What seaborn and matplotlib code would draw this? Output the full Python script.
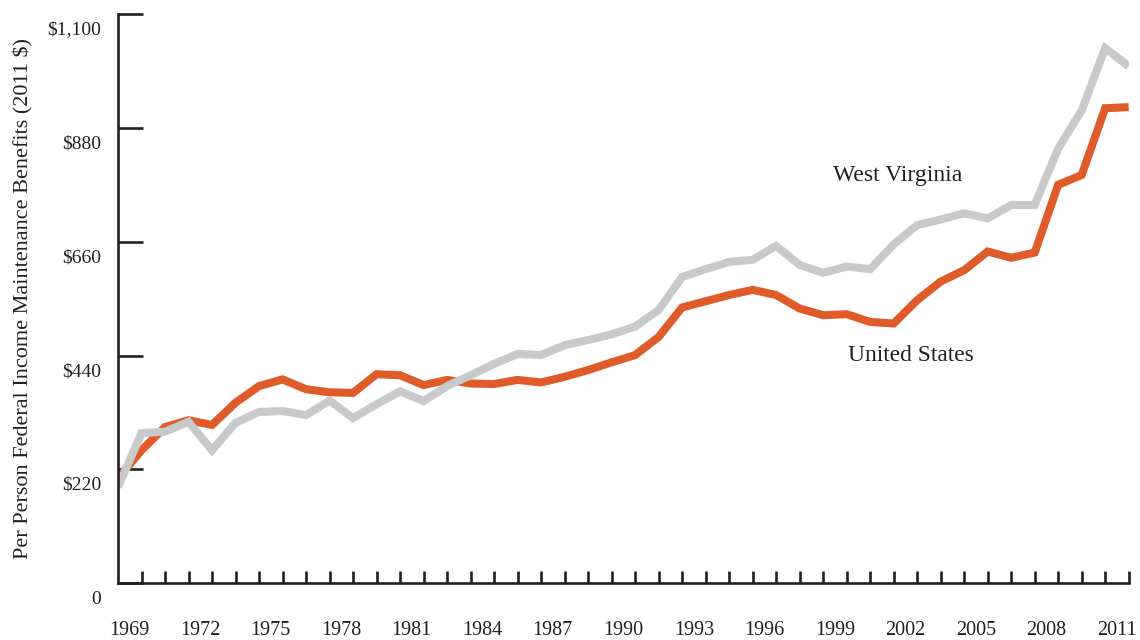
import matplotlib
matplotlib.use("Agg")
import matplotlib.pyplot as plt
from matplotlib.transforms import ScaledTranslation
import seaborn as sns
import pandas as pd

years = list(range(1969, 2013))
west_virginia = [186, 290, 293, 312, 257, 310, 331, 333, 325, 353, 319, 346, 371, 352,
                 381, 402, 424, 443, 441, 460, 470, 481, 496, 528, 592, 607, 621, 625,
                 652, 615, 600, 612, 607, 655, 692, 703, 715, 705, 731, 731, 840, 914,
                 1034, 999]
united_states = [203, 257, 302, 315, 306, 349, 381, 394, 375, 369, 368, 404, 402, 383,
                 393, 386, 385, 393, 388, 399, 412, 427, 441, 476, 533, 545, 557, 567,
                 557, 531, 518, 520, 505, 502, 547, 583, 605, 641, 629, 639, 770, 789,
                 918, 920]
series_names = ["United States", "West Virginia"]
colors = ["#DF5B2A", "#C8C9CA"]
label_years = list(range(1969, 2012, 3))
y_ticks = [0, 220, 440, 660, 880, 1100]
y_tick_labels = ["0", "$220", "$440", "$660", "$880", "$1,100"]
y_title = "Per Person Federal Income Maintenance Benefits (2011 $)"

df = pd.DataFrame({
    "year": years * 2,
    "value": united_states + west_virginia,
    "series": [series_names[0]] * len(years) + [series_names[1]] * len(years),
})

sns.set_style("white")
plt.rcParams["font.family"] = ["Liberation Serif", "DejaVu Serif"]
ink = "#231F20"

fig = plt.figure(figsize=(11.4, 6.4), dpi=100)
ax = fig.add_axes([118 / 1140, 1 - 583.3 / 640, (1128.7 - 118) / 1140, (583.3 - 14) / 640])

sns.lineplot(data=df, x="year", y="value", hue="series", hue_order=series_names,
             palette=colors, linewidth=5.8, legend=False, ax=ax,
             solid_capstyle="butt", solid_joinstyle="miter")

ax.set_xlim(years[0], years[-1])
ax.set_ylim(0, 1100)

for s in ["top", "right"]:
    ax.spines[s].set_visible(False)
for s in ["left", "bottom"]:
    ax.spines[s].set_linewidth(1.9)
    ax.spines[s].set_color(ink)

# x axis: tick marks at each year, labels between ticks
ax.set_xticks([y + 0.5 for y in label_years])
ax.set_xticklabels([str(y) for y in label_years])
ax.set_xticks(years[1:], minor=True)
ax.tick_params(axis="x", which="both", bottom=True, top=False)
ax.tick_params(axis="x", which="major", length=0, pad=27, labelsize=14.5, labelcolor=ink)
ax.tick_params(axis="x", which="minor", direction="in", length=9, width=1.9, color=ink)

ax.set_yticks(y_ticks)
ax.set_yticklabels(y_tick_labels)
ax.tick_params(axis="y", which="major", left=True, right=False, direction="in",
               length=18, width=1.9, color=ink, pad=12, labelsize=14, labelcolor=ink)
off = ScaledTranslation(0, -14 / 100, fig.dpi_scale_trans)
for lab in ax.get_yticklabels():
    lab.set_transform(lab.get_transform() + off)

ax.set_xlabel("")
ax.set_ylabel(y_title, fontsize=16, color=ink, labelpad=10)

ax.text(1999.4, 787, "West Virginia", fontsize=17, color=ink, ha="left", va="center")
ax.text(2000.05, 441, "United States", fontsize=16.8, color=ink, ha="left", va="center")

fig.savefig("out.png", dpi=100)
